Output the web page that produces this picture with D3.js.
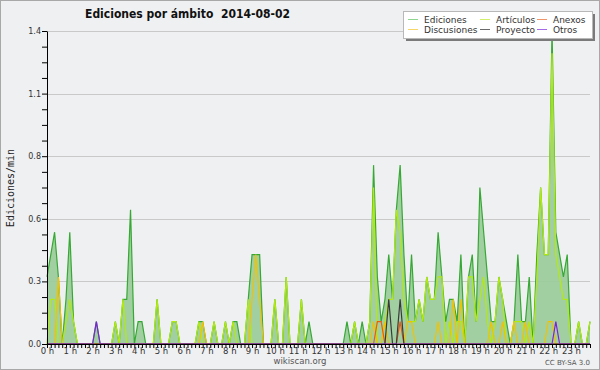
<!DOCTYPE html>
<html>
<head>
<meta charset="utf-8">
<script src="https://cdn.jsdelivr.net/npm/d3@7"></script>
<style>
  body { margin: 0; background: #fff; }
  svg { display: block; }
</style>
</head>
<body>
<svg width="600" height="370"></svg>
<script>
// one value per 10 minutes, 144 bins for the day (edits/min)
var hourLabels = ["0 h", "1 h", "2 h", "3 h", "4 h", "5 h", "6 h", "7 h", "8 h", "9 h", "10 h", "11 h",
  "12 h", "13 h", "14 h", "15 h", "16 h", "17 h", "18 h", "19 h", "20 h", "21 h", "22 h", "23 h"];

var yTickLabels = ["0.0", "0.3", "0.6", "0.8", "1.1", "1.4"];

var ediciones = [
  0.3, 0.4, 0.5, 0.3, 0, 0.2,
  0.5, 0.1, 0, 0, 0, 0,
  0, 0.1, 0, 0, 0, 0,
  0.1, 0, 0.2, 0.2, 0.6, 0,
  0.1, 0.1, 0, 0, 0, 0.2,
  0, 0, 0, 0.1, 0.1, 0,
  0, 0, 0, 0, 0.1, 0.1,
  0, 0, 0.1, 0, 0, 0.1,
  0, 0.1, 0.1, 0, 0, 0.2,
  0.4, 0.4, 0.4, 0, 0, 0,
  0.2, 0, 0, 0.3, 0, 0,
  0, 0.2, 0, 0.1, 0, 0,
  0, 0, 0, 0, 0, 0,
  0, 0.1, 0, 0.1, 0, 0.1,
  0, 0.1, 0.8, 0.3, 0.1, 0.2,
  0.4, 0.2, 0.6, 0.8, 0.4, 0.1,
  0.4, 0.1, 0.2, 0.1, 0.3, 0.2,
  0.2, 0.5, 0.3, 0.1, 0.2, 0.2,
  0.1, 0.4, 0, 0.3, 0.4, 0.1,
  0.7, 0.5, 0.3, 0.1, 0.1, 0.3,
  0.2, 0.1, 0, 0.1, 0.4, 0.1,
  0.1, 0.3, 0, 0.4, 0.7, 0.4,
  0.4, 1.4, 0.5, 0.4, 0.3, 0.4,
  0, 0, 0.1, 0, 0, 0.1
];

var articulos = [
  0, 0.2, 0.2, 0, 0, 0.1,
  0.2, 0.1, 0, 0, 0, 0,
  0, 0, 0, 0, 0, 0,
  0.1, 0, 0.2, 0, 0, 0,
  0, 0, 0, 0, 0, 0.2,
  0, 0, 0, 0.1, 0.1, 0,
  0, 0, 0, 0, 0.1, 0,
  0, 0, 0.1, 0, 0, 0.1,
  0, 0.1, 0, 0, 0, 0.2,
  0, 0, 0, 0, 0, 0,
  0.2, 0, 0, 0.3, 0, 0,
  0, 0.2, 0, 0, 0, 0,
  0, 0, 0, 0, 0, 0,
  0, 0, 0, 0.1, 0, 0,
  0, 0.1, 0.7, 0, 0, 0.1,
  0.2, 0.2, 0.6, 0.5, 0.2, 0.1,
  0.1, 0.1, 0.2, 0.1, 0.3, 0.2,
  0.2, 0.3, 0.3, 0, 0.1, 0,
  0.1, 0.1, 0, 0.3, 0.3, 0.1,
  0.2, 0.3, 0.1, 0, 0.1, 0.3,
  0.2, 0, 0, 0.1, 0.1, 0.1,
  0, 0.1, 0, 0.3, 0.7, 0.4,
  0.4, 1.3, 0.4, 0.3, 0.2, 0.2,
  0, 0, 0.1, 0, 0, 0.1
];

var discusiones = [
  0, 0, 0, 0.3, 0, 0,
  0, 0, 0, 0, 0, 0,
  0, 0, 0, 0, 0, 0,
  0, 0, 0, 0, 0, 0,
  0, 0, 0, 0, 0, 0,
  0, 0, 0, 0, 0, 0,
  0, 0, 0, 0, 0, 0.1,
  0, 0, 0, 0, 0, 0,
  0, 0, 0, 0, 0, 0,
  0.2, 0.4, 0.2, 0, 0, 0,
  0, 0, 0, 0, 0, 0,
  0, 0, 0, 0, 0, 0,
  0, 0, 0, 0, 0, 0,
  0, 0, 0, 0, 0, 0,
  0, 0, 0.1, 0, 0, 0.1,
  0, 0, 0, 0, 0, 0.1,
  0.1, 0, 0, 0, 0, 0,
  0, 0.1, 0, 0, 0, 0.2,
  0, 0.2, 0, 0, 0, 0,
  0, 0, 0, 0.1, 0, 0,
  0.1, 0, 0, 0.1, 0, 0,
  0.1, 0, 0, 0, 0, 0,
  0.1, 0.1, 0, 0, 0, 0,
  0, 0, 0, 0, 0, 0
];

var anexos = [
  0, 0, 0, 0, 0, 0,  0, 0, 0, 0, 0, 0,  0, 0, 0, 0, 0, 0,  0, 0, 0, 0, 0, 0,
  0, 0, 0, 0, 0, 0,  0, 0, 0, 0, 0, 0,  0, 0, 0, 0, 0, 0,  0, 0, 0, 0, 0, 0,
  0, 0, 0, 0, 0, 0,  0, 0, 0, 0, 0, 0,  0, 0, 0, 0, 0, 0,  0, 0, 0, 0, 0, 0,
  0, 0, 0, 0, 0, 0,  0, 0, 0, 0, 0, 0,  0, 0, 0, 0.1, 0.1, 0,  0, 0, 0, 0.1, 0, 0,
  0, 0, 0, 0, 0, 0,  0, 0, 0, 0, 0, 0,  0, 0, 0, 0, 0, 0,  0, 0, 0, 0, 0, 0,
  0, 0, 0, 0, 0, 0,  0, 0, 0, 0, 0, 0,  0, 0, 0, 0, 0, 0,  0, 0, 0, 0, 0, 0
];

var proyecto = [
  0, 0, 0, 0, 0, 0,  0, 0, 0, 0, 0, 0,  0, 0, 0, 0, 0, 0,  0, 0, 0, 0, 0, 0,
  0, 0, 0, 0, 0, 0,  0, 0, 0, 0, 0, 0,  0, 0, 0, 0, 0, 0,  0, 0, 0, 0, 0, 0,
  0, 0, 0, 0, 0, 0,  0, 0, 0, 0, 0, 0,  0, 0, 0, 0, 0, 0,  0, 0, 0, 0, 0, 0,
  0, 0, 0, 0, 0, 0,  0, 0, 0, 0, 0, 0,  0, 0, 0, 0, 0, 0,  0.2, 0, 0, 0.2, 0, 0,
  0, 0, 0, 0, 0, 0,  0, 0, 0, 0, 0, 0,  0, 0, 0, 0, 0, 0,  0, 0, 0, 0, 0, 0,
  0, 0, 0, 0, 0, 0,  0, 0, 0, 0, 0, 0,  0, 0, 0, 0, 0, 0,  0, 0, 0, 0, 0, 0
];

var otros = [
  0, 0, 0, 0, 0, 0,  0, 0, 0, 0, 0, 0,  0, 0.1, 0, 0, 0, 0,  0, 0, 0, 0, 0, 0,
  0, 0, 0, 0, 0, 0,  0, 0, 0, 0, 0, 0,  0, 0, 0, 0, 0, 0,  0, 0, 0, 0, 0, 0,
  0, 0, 0, 0, 0, 0,  0, 0, 0, 0, 0, 0,  0, 0, 0, 0, 0, 0,  0, 0, 0, 0, 0, 0,
  0, 0, 0, 0, 0, 0,  0, 0, 0, 0, 0, 0,  0, 0, 0, 0, 0, 0,  0, 0, 0, 0, 0, 0,
  0, 0, 0, 0, 0, 0,  0, 0, 0, 0, 0, 0,  0, 0, 0, 0, 0, 0,  0, 0, 0, 0, 0, 0,
  0, 0, 0, 0, 0, 0,  0, 0, 0, 0, 0, 0,  0, 0, 0.1, 0, 0, 0,  0, 0, 0, 0, 0, 0
];

var series = [
  {name: "Ediciones", values: ediciones, color: "#36a834", key: "#8fd48f"},
  {name: "Artículos", values: articulos, color: "#b2ea10", key: "#d2ef6a"},
  {name: "Discusiones", values: discusiones, color: "#f2c200", key: "#f6d668"},
  {name: "Anexos", values: anexos, color: "#ec5a14", key: "#f0946a"},
  {name: "Proyecto", values: proyecto, color: "#3a3a3a", key: "#6a6a6a"},
  {name: "Otros", values: otros, color: "#7e22dc", key: "#a46ae8"}
];

var svg = d3.select("svg"),
    width = +svg.attr("width"),
    height = +svg.attr("height");

var x = d3.scaleLinear().domain([0, ediciones.length - 1]).range([47, 590]);
var y = d3.scaleLinear().domain([0, 1.4]).range([344, 31]);

// background + frame
svg.append("rect").attr("width", width).attr("height", height).attr("fill", "#eff0f1");
svg.append("rect").attr("x", 0.5).attr("y", 0.5).attr("width", width - 1).attr("height", height - 1)
  .attr("fill", "none").attr("stroke", "#a8a8a8");

// grid at labelled ticks
var majors = d3.range(1, 6).map(k => k * 0.28);
svg.append("g").selectAll("line").data(majors).enter().append("line")
  .attr("x1", x(0)).attr("x2", 590)
  .attr("y1", d => Math.round(y(d)) + 0.5).attr("y2", d => Math.round(y(d)) + 0.5)
  .attr("stroke", "#c9c9c9");

// Ediciones area
svg.append("path").datum(ediciones)
  .attr("fill", "#9dcc9d").attr("fill-opacity", 0.95)
  .attr("d", d3.area().x((d, i) => x(i)).y0(y(0)).y1(d => y(d)));

var line = d3.line().x((d, i) => x(i)).y(d => y(d));
svg.append("g").selectAll("path").data(series).enter().append("path")
  .attr("fill", "none")
  .attr("stroke", d => d.color)
  .attr("stroke-width", 1.2)
  .attr("d", d => line(d.values));

// axes
var xAxis = d3.axisBottom(x)
  .tickValues(d3.range(ediciones.length))
  .tickSize(4).tickSizeOuter(0).tickPadding(0)
  .tickFormat(i => i % 6 ? "" : hourLabels[i / 6]);
var gx = svg.append("g").attr("transform", "translate(0," + y(0) + ")").call(xAxis);
gx.attr("font-family", "'DejaVu Sans', sans-serif").attr("font-size", 8.5);
gx.selectAll("text").attr("fill", "#333");

var yAxis = d3.axisLeft(y)
  .tickValues(d3.range(0, 21).map(k => k * 0.07))
  .tickSize(5).tickSizeOuter(0).tickPadding(1)
  .tickFormat((d, k) => k % 4 ? "" : yTickLabels[k / 4]);
var gy = svg.append("g").attr("transform", "translate(" + x(0) + ",0)").call(yAxis);
gy.attr("font-family", "'DejaVu Sans', sans-serif").attr("font-size", 8);
gy.selectAll("text").attr("fill", "#333");

// titles
svg.append("text").attr("x", 85).attr("y", 18)
  .attr("font-family", "'DejaVu Sans', sans-serif").attr("font-weight", "bold").attr("font-size", 12)
  .attr("textLength", 205).attr("lengthAdjust", "spacingAndGlyphs")
  .attr("fill", "#111").attr("xml:space", "preserve")
  .text("Ediciones por ámbito  2014-08-02");

svg.append("text").attr("transform", "translate(13.5,188) rotate(-90)")
  .attr("text-anchor", "middle")
  .attr("font-family", "'DejaVu Sans Mono', monospace").attr("font-size", 10)
  .attr("fill", "#222").text("Ediciones/min");

svg.append("text").attr("x", 300).attr("y", 364).attr("text-anchor", "middle")
  .attr("font-family", "'DejaVu Sans', sans-serif").attr("font-size", 8.5)
  .attr("fill", "#555").text("wikiscan.org");

svg.append("text").attr("x", 590).attr("y", 365).attr("text-anchor", "end")
  .attr("font-family", "'DejaVu Sans', sans-serif").attr("font-size", 7)
  .attr("fill", "#555").text("CC BY-SA 3.0");

// legend, 3 columns x 2 rows
var legendOrder = ["Ediciones", "Artículos", "Anexos", "Discusiones", "Proyecto", "Otros"];
var colX = [408, 480, 537];
var legend = svg.append("g");
legend.append("rect").attr("x", 406).attr("y", 14).attr("width", 189).attr("height", 27).attr("fill", "#7a7a7a");
legend.append("rect").attr("x", 403.5).attr("y", 11.5).attr("width", 189).attr("height", 27)
  .attr("fill", "#fff").attr("stroke", "#b8b8b8");

var item = legend.selectAll(".item").data(legendOrder.map(n => series.find(s => s.name === n)))
  .enter().append("g")
  .attr("transform", (d, k) => "translate(" + colX[k % 3] + "," + (19 + Math.floor(k / 3) * 10) + ")");
item.append("line").attr("x1", 0).attr("x2", 10).attr("y1", 0.5).attr("y2", 0.5)
  .attr("stroke", d => d.key);
item.append("text").attr("x", 16).attr("y", 3.5)
  .attr("font-family", "'DejaVu Sans', sans-serif").attr("font-size", 9)
  .attr("fill", "#333").text(d => d.name);
</script>
</body>
</html>
